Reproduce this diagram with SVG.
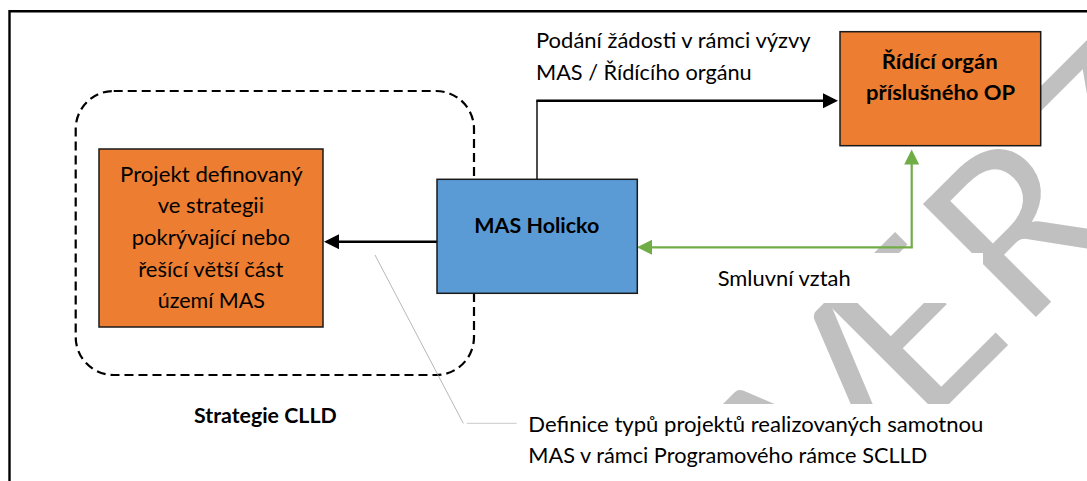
<svg xmlns="http://www.w3.org/2000/svg" width="1087" height="481" viewBox="0 0 1087 481">
  <defs>
    <style>
      .t { font-family: Lato, "Open Sans", "Liberation Sans", sans-serif; font-size: 21.5px; fill: #000; }
      .b { font-weight: bold; }
      .box { stroke: #1a1a1a; stroke-width: 1.5; }
      .orange { fill: #ED7D31; }
      .blue { fill: #5B9BD5; }
      .blk { fill: none; stroke: #000; }
      .grn { fill: none; stroke: #70AD47; stroke-width: 2.2; }
      .wm { font-family: Lato, "Open Sans", sans-serif; font-size: 223px; fill: #c0c0c0; }
    </style>
    <marker id="ab" markerUnits="userSpaceOnUse" markerWidth="16" markerHeight="16" refX="11" refY="7.5" orient="auto">
      <path d="M0,0 L15,7.5 L0,15 Z" fill="#000"/>
    </marker>
    <marker id="ag" markerUnits="userSpaceOnUse" markerWidth="16" markerHeight="16" refX="11" refY="7.5" orient="auto">
      <path d="M0,0 L15,7.5 L0,15 Z" fill="#70AD47"/>
    </marker>
  </defs>
  <rect x="0" y="0" width="1087" height="481" fill="#fff"/>

  <!-- frame -->
  <path d="M9.5,481 V11.2 H1087" fill="none" stroke="#000" stroke-width="2.4"/>

  <!-- watermark -->
  <g id="watermark">
    <text class="wm" transform="translate(1040 313) rotate(-45)" x="-290 -164 -26 104 226" y="0">VERZE</text>
  </g>

  <!-- label backgrounds -->
  <rect x="690" y="253" width="293" height="50" fill="#fff"/>
  <rect x="520" y="404" width="567" height="77" fill="#fff"/>

  <!-- strategy group (dashed) -->
  <g id="strategie-clld">
    <rect x="75.7" y="91" width="398.3" height="284" rx="38" ry="38" fill="none" stroke="#000" stroke-width="2.2" stroke-dasharray="9 5"/>
    <text class="t b" x="194" y="423.3" textLength="142.7" lengthAdjust="spacingAndGlyphs">Strategie CLLD</text>
  </g>

  <!-- connectors -->
  <g id="connectors">
    <line class="blk" x1="537" y1="179.5" x2="537" y2="100.7" stroke-width="1.4"/>
    <line class="blk" x1="536.3" y1="100.7" x2="834" y2="100.7" stroke-width="2.6" marker-end="url(#ab)"/>
    <line class="blk" x1="437" y1="241.7" x2="328" y2="241.7" stroke-width="2.6" marker-end="url(#ab)"/>
    <polyline class="grn" points="911.7,247.3 911.7,153.5" marker-end="url(#ag)"/>
    <polyline class="grn" points="912.8,247.3 641,247.3" marker-end="url(#ag)"/>
    <polyline points="375,255 463.3,423.3" fill="none" stroke="#a6a6a6" stroke-width="0.8"/>
    <line x1="466.7" y1="423.3" x2="516.7" y2="423.3" stroke="#bdbdbd" stroke-width="0.8"/>
  </g>

  <!-- nodes -->
  <g id="node-projekt">
    <rect class="box orange" x="99" y="149" width="224" height="178"/>
    <text class="t" x="120" y="181.7" textLength="182.7" lengthAdjust="spacingAndGlyphs">Projekt definovaný</text>
    <text class="t" x="157.7" y="213.3" textLength="106.3" lengthAdjust="spacingAndGlyphs">ve strategii</text>
    <text class="t" x="131.7" y="245" textLength="158.3" lengthAdjust="spacingAndGlyphs">pokrývající nebo</text>
    <text class="t" x="138.3" y="276.5" textLength="145" lengthAdjust="spacingAndGlyphs">řešící větší část</text>
    <text class="t" x="157.7" y="307.7" textLength="107.3" lengthAdjust="spacingAndGlyphs">území MAS</text>
  </g>

  <g id="node-mas">
    <rect class="box blue" x="437" y="179.3" width="200.3" height="114"/>
    <text class="t b" x="474.3" y="232.7" textLength="125" lengthAdjust="spacingAndGlyphs">MAS Holicko</text>
  </g>

  <g id="node-ridici-organ">
    <rect class="box orange" x="840" y="31.7" width="200.7" height="114"/>
    <text class="t b" x="881.7" y="69.3" textLength="116" lengthAdjust="spacingAndGlyphs">Řídící orgán</text>
    <text class="t b" x="866" y="100" textLength="149" lengthAdjust="spacingAndGlyphs">příslušného OP</text>
  </g>

  <!-- labels -->
  <g id="label-podani">
    <text class="t" x="536" y="48.3" textLength="274.7" lengthAdjust="spacingAndGlyphs">Podání žádosti v rámci výzvy</text>
    <text class="t" x="536" y="80" textLength="215.7" lengthAdjust="spacingAndGlyphs">MAS / Řídícího orgánu</text>
  </g>
  <g id="label-smluvni">
    <text class="t" x="717.7" y="285.7" textLength="133" lengthAdjust="spacingAndGlyphs">Smluvní vztah</text>
  </g>
  <g id="label-definice">
    <text class="t" x="528.3" y="432.3" textLength="455" lengthAdjust="spacingAndGlyphs">Definice typů projektů realizovaných samotnou</text>
    <text class="t" x="528.3" y="463.3" textLength="399" lengthAdjust="spacingAndGlyphs">MAS v rámci Programového rámce SCLLD</text>
  </g>
</svg>
